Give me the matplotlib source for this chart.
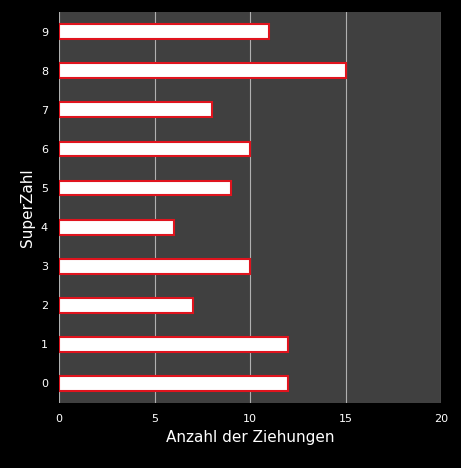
import matplotlib
matplotlib.use("Agg")
import matplotlib.pyplot as plt

categories = ["0","1","2","3","4","5","6","7","8","9"]
values = [12,12,7,10,6,9,10,8,15,11]

fig = plt.figure(figsize=(4.61,4.68), dpi=100, facecolor="black")
ax = fig.add_axes([0.128,0.139,0.829,0.835], facecolor="#404040")
ax.barh(range(len(categories)), values, height=0.38, color="white", edgecolor="#e0141e", linewidth=1.5, zorder=3)
ax.set_yticks(range(len(categories)))
ax.set_yticklabels(categories)
ax.set_xlim(0,20)
ax.set_ylim(-0.5,9.5)
ax.set_xticks([0,5,10,15,20])
ax.grid(axis="x", color="#b0b0b0", linewidth=0.8, zorder=0)
for s in ax.spines.values():
    s.set_visible(False)
ax.tick_params(colors="white", labelsize=8, length=0, pad=8)
ax.set_xlabel("Anzahl der Ziehungen", color="white", fontsize=11)
ax.set_ylabel("SuperZahl", color="white", fontsize=11)
fig.savefig("out.png", dpi=100, facecolor="black")
